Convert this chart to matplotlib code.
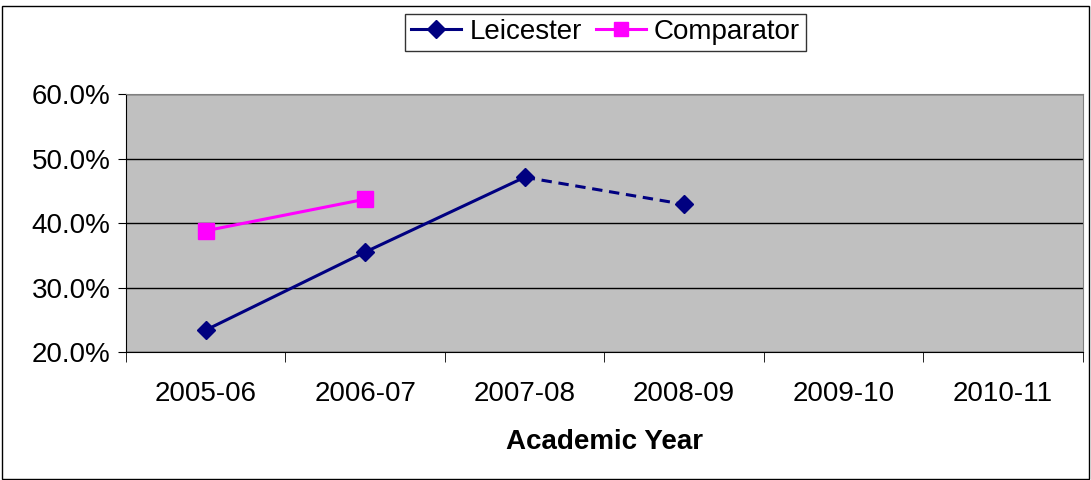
import matplotlib.pyplot as plt
from matplotlib.lines import Line2D
from matplotlib.patches import Rectangle
from matplotlib.ticker import FuncFormatter, FixedLocator

plt.rcParams['font.family'] = ['Liberation Sans', 'DejaVu Sans']

years = ['2005-06', '2006-07', '2007-08', '2008-09', '2009-10', '2010-11']
leicester = [23.4, 35.5, 47.1, 42.9]
comparator = [38.8, 43.7]

navy = '#000080'
pink = '#FF00FF'
fs = 20

fig = plt.figure(figsize=(10.91, 4.8), dpi=100)
ax = fig.add_axes([0.1155, 0.2667, 0.877, 0.5373])
ax.set_facecolor('#C0C0C0')

x = list(range(len(years)))
# solid part, then projected (dashed) segment
ax.plot(x[:3], leicester[:3], color=navy, lw=2.2, zorder=3)
ax.plot(x[2:4], leicester[2:4], color=navy, lw=2.2, ls=(0, (3.4, 2.2)), zorder=3)
ax.plot(x[:4], leicester, ls='none', marker='D', ms=9, color=navy, zorder=4)
ax.plot(x[:2], comparator, color=pink, lw=2.2, marker='s', ms=11, zorder=4)

ax.set_xlim(-0.5, 5.5)
ax.set_ylim(20, 60)
ax.set_yticks([20, 30, 40, 50, 60])
ax.yaxis.set_major_formatter(FuncFormatter(lambda v, p: f'{v:.1f}%'))
ax.yaxis.grid(True, color='black', lw=1)
ax.set_axisbelow(True)

ax.set_xticks(x)
ax.set_xticklabels(years)
ax.tick_params(axis='x', which='major', length=0, pad=21, labelsize=fs)
ax.xaxis.set_minor_locator(FixedLocator([i + 0.5 for i in range(-1, 6)]))
ax.tick_params(axis='x', which='minor', length=7, color='black', direction='out')
ax.tick_params(axis='y', length=6, labelsize=fs, pad=5)

ax.set_xlabel('Academic Year', fontsize=fs, fontweight='bold', labelpad=16)

for s in ['left', 'bottom']:
    ax.spines[s].set_color('black')
for s in ['top', 'right']:
    ax.spines[s].set_color('#808080')

handles = [Line2D([], [], color=navy, lw=2.2, marker='D', ms=9),
           Line2D([], [], color=pink, lw=2.2, marker='s', ms=10)]
leg = fig.legend(handles, ['Leicester', 'Comparator'], loc='center',
                 bbox_to_anchor=(0.555, 0.933), ncol=2, fontsize=fs,
                 frameon=True, fancybox=False, edgecolor='black',
                 handlelength=1.8, handletextpad=0.3, columnspacing=0.5,
                 borderpad=0.2)
leg.get_frame().set_linewidth(1)

fig.patches.append(Rectangle((0.002, 0.003), 0.996, 0.985, transform=fig.transFigure,
                             fill=False, edgecolor='black', lw=1))

fig.savefig('out.png', dpi=100)
